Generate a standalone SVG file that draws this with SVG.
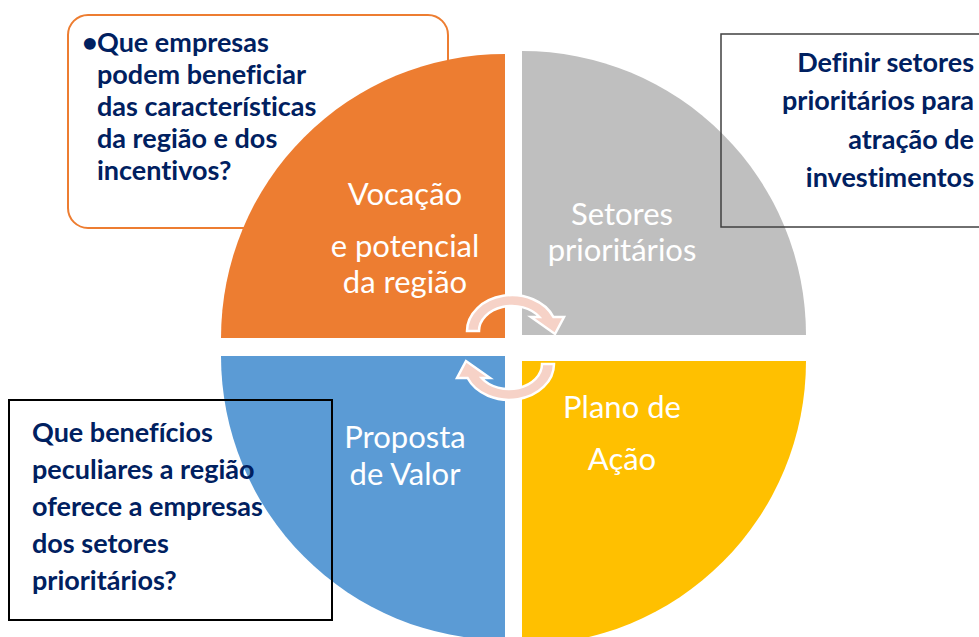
<svg xmlns="http://www.w3.org/2000/svg" xmlns:xlink="http://www.w3.org/1999/xlink" width="979" height="637" viewBox="0 0 979 637">
<style>
.q{font-family:Lato,"Liberation Sans",sans-serif;font-size:31px;fill:#ffffff;text-anchor:middle}
.b{font-family:Lato,"Liberation Sans",sans-serif;font-weight:bold;font-size:27px;fill:#002060;font-variant-ligatures:none}
.arw{fill:#F6D2C7;stroke:#ffffff;stroke-width:2.5;stroke-linejoin:miter}
</style>
<defs>
<path id="arrow" class="arw" d="M467,331 A45,36 0 0 1 553.4,317 L564,317 L555,334 L531,317 L539.4,317 A33,25 0 0 0 479,331 Z"/>
</defs>
<rect width="979" height="637" fill="#ffffff"/>
<g id="box-vocacao">
<rect x="68" y="15" width="380" height="213" rx="20" ry="20" fill="#ffffff" stroke="#ED7D31" stroke-width="2"/>
</g>
<g id="node-vocacao">
<path d="M505,338 H221 A284,284 0 0 1 505,54 Z" fill="#ED7D31"/>
<text class="q" x="405" y="205">Vocação</text>
<text class="q" x="405" y="257">e potencial</text>
<text class="q" x="405" y="293">da região</text>
</g>
<g id="node-setores">
<path d="M522,335 V51 A284,284 0 0 1 806,335 Z" fill="#BFBFBF"/>
<text class="q" x="622" y="225">Setores</text>
<text class="q" x="622" y="261">prioritários</text>
</g>
<g id="node-plano">
<path d="M522,361 H806 A284,284 0 0 1 522,645 Z" fill="#FFC000"/>
<text class="q" x="622" y="418">Plano de</text>
<text class="q" x="622" y="470">Ação</text>
</g>
<g id="node-proposta">
<path d="M505,356 V640 A284,284 0 0 1 221,356 Z" fill="#5B9BD5"/>
<text class="q" x="405" y="448">Proposta</text>
<text class="q" x="405" y="485">de Valor</text>
</g>
<g id="connectors">
<use xlink:href="#arrow" href="#arrow"/>
<use xlink:href="#arrow" href="#arrow" transform="rotate(180 510.5 347.5)"/>
</g>
<g id="text-vocacao">
<text class="b" y="52"><tspan x="82">•</tspan><tspan x="97">Que empresas</tspan></text>
<text class="b" x="97" y="84">podem beneficiar</text>
<text class="b" x="97" y="116">das características</text>
<text class="b" x="97" y="148">da região e dos</text>
<text class="b" x="97" y="180">incentivos?</text>
</g>
<g id="box-setores">
<rect x="721" y="34" width="270" height="193" fill="none" stroke="#404040" stroke-width="1.5"/>
<text class="b" x="974" y="72" text-anchor="end">Definir setores</text>
<text class="b" x="974" y="110" text-anchor="end">prioritários para</text>
<text class="b" x="974" y="149" text-anchor="end">atração de</text>
<text class="b" x="974" y="187" text-anchor="end">investimentos</text>
</g>
<g id="box-proposta">
<rect x="9" y="400" width="323" height="220" fill="none" stroke="#000000" stroke-width="2"/>
<text class="b" x="32" y="442">Que benefícios</text>
<text class="b" x="32" y="479">peculiares a região</text>
<text class="b" x="32" y="516">oferece a empresas</text>
<text class="b" x="32" y="553">dos setores</text>
<text class="b" x="32" y="590">prioritários?</text>
</g>
</svg>
